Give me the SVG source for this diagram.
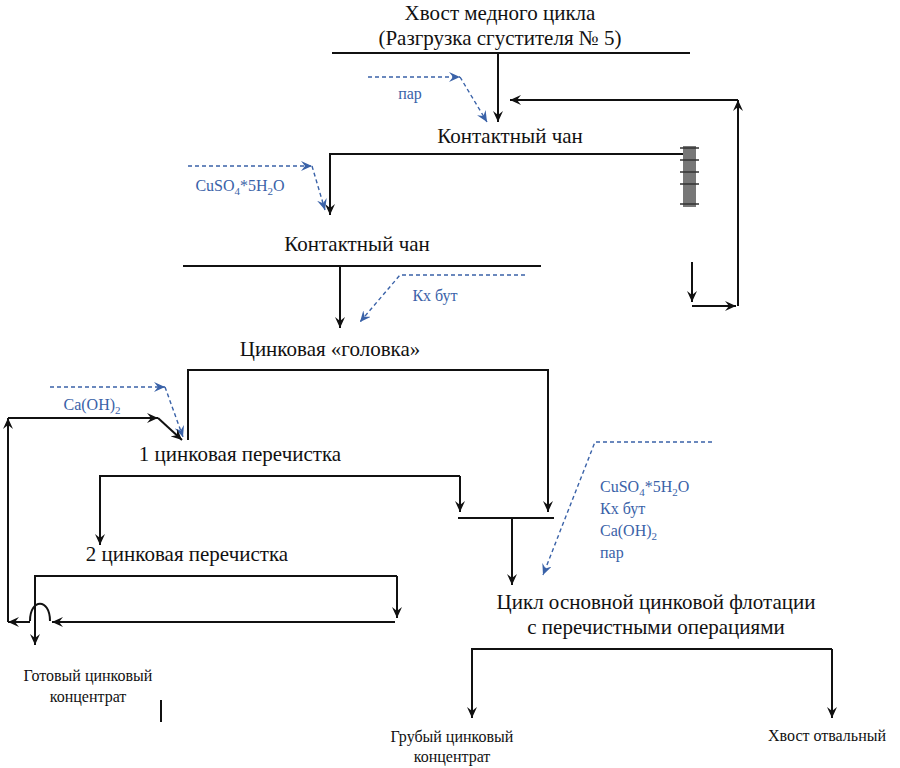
<svg xmlns="http://www.w3.org/2000/svg" width="900" height="768" viewBox="0 0 900 768">
<defs>
<marker id="a" viewBox="0 0 12 10" refX="11" refY="5" markerWidth="12" markerHeight="10" markerUnits="userSpaceOnUse" orient="auto"><path d="M0,0 L11,5 L0,10 L4,5 Z" fill="#111"/></marker>
<marker id="b" viewBox="0 0 12 10" refX="11" refY="5" markerWidth="12" markerHeight="10" markerUnits="userSpaceOnUse" orient="auto"><path d="M0,0 L11,5 L0,10 L4,5 Z" fill="#3a62a8"/></marker>
</defs>
<style>
text{font-family:"Liberation Serif","DejaVu Serif",serif;fill:#111;text-anchor:middle}
.m{font-size:21px}.s{font-size:16px}
.bl{fill:#3a62a8;font-size:16px}
.l{fill:none;stroke:#111;stroke-width:2}
.d{fill:none;stroke:#3a62a8;stroke-width:1.4;stroke-dasharray:4,3}
</style>
<rect width="900" height="768" fill="#fff"/>
<g id="n-tail"><text class="m" x="500" y="20">Хвост медного цикла</text><text class="m" x="500" y="45">(Разгрузка сгустителя № 5)</text></g>
<g id="n-chan1"><text class="m" x="510" y="143">Контактный чан</text></g>
<g id="pump"><rect x="683" y="146" width="13" height="61" fill="#777"/><path d="M680,148h19M680,160h19M680,172h19M680,184h19M680,204h19" stroke="#333" stroke-width="1.5"/></g>
<g id="n-chan2"><text class="m" x="357" y="251">Контактный чан</text></g>
<g id="n-head"><text class="m" x="330" y="356">Цинковая «головка»</text></g>
<g id="n-c1"><text class="m" x="240" y="461">1 цинковая перечистка</text></g>
<g id="n-c2"><text class="m" x="187" y="561">2 цинковая перечистка</text></g>
<g id="n-main"><text class="m" x="656" y="609">Цикл основной цинковой флотации</text><text class="m" x="656" y="634">с перечистными операциями</text></g>
<g id="n-ready"><text class="s" x="88" y="681">Готовый цинковый</text><text class="s" x="88" y="702">концентрат</text></g>
<g id="n-rough"><text class="s" x="452" y="742">Грубый цинковый</text><text class="s" x="452" y="762">концентрат</text></g>
<g id="n-waste"><text class="s" x="827" y="741">Хвост отвальный</text></g>
<g id="reagents">
<text class="bl" x="410" y="99">пар</text>
<text class="bl" x="240" y="191">CuSO<tspan font-size="11" dy="4">4</tspan><tspan dy="-4">*5H</tspan><tspan font-size="11" dy="4">2</tspan><tspan dy="-4">O</tspan></text>
<text class="bl" x="435" y="301">Кх бут</text>
<text class="bl" x="92" y="410">Ca(OH)<tspan font-size="11" dy="4">2</tspan></text>
<text class="bl" x="600" y="492" style="text-anchor:start">CuSO<tspan font-size="11" dy="4">4</tspan><tspan dy="-4">*5H</tspan><tspan font-size="11" dy="4">2</tspan><tspan dy="-4">O</tspan></text>
<text class="bl" x="600" y="514" style="text-anchor:start">Кх бут</text>
<text class="bl" x="600" y="536" style="text-anchor:start">Ca(OH)<tspan font-size="11" dy="4">2</tspan></text>
<text class="bl" x="600" y="558" style="text-anchor:start">пар</text>
</g>
<g id="connectors">
<path class="l" d="M332,53H690"/>
<path class="l" d="M498,53V122" marker-end="url(#a)"/>
<path class="d" d="M368,77H460" marker-end="url(#b)"/>
<path class="d" d="M460,77L487,122" marker-end="url(#b)"/>
<path class="l" d="M738,306V100" marker-end="url(#a)"/>
<path class="l" d="M738,100H510" marker-end="url(#a)"/>
<path class="l" d="M692,262V302" marker-end="url(#a)"/>
<path class="l" d="M692,306H736" marker-end="url(#a)"/>
<path class="l" d="M683,154H330V215" marker-end="url(#a)"/>
<path class="d" d="M188,166H312" marker-end="url(#b)"/>
<path class="d" d="M312,166L325,210" marker-end="url(#b)"/>
<path class="l" d="M183,266H541"/>
<path class="l" d="M340,266V328" marker-end="url(#a)"/>
<path class="d" d="M525,275H400L360,322" marker-end="url(#b)"/>
<path class="l" d="M188,440V370H548V512" marker-end="url(#a)"/>
<path class="d" d="M50,387H165" marker-end="url(#b)"/>
<path class="d" d="M165,387L183,437" marker-end="url(#b)"/>
<path class="l" d="M8,622V418" marker-end="url(#a)"/>
<path class="l" d="M8,418H158" marker-end="url(#a)"/>
<path class="l" d="M158,418L182,440" marker-end="url(#a)"/>
<path class="l" d="M460,476V512" marker-end="url(#a)"/>
<path class="l" d="M460,476H100V545" marker-end="url(#a)"/>
<path class="l" d="M458,518H554"/>
<path class="l" d="M512,518V585" marker-end="url(#a)"/>
<path class="d" d="M712,442H595L543,575" marker-end="url(#b)"/>
<path class="l" d="M397,576H35V645" marker-end="url(#a)"/>
<path class="l" d="M397,576V618" marker-end="url(#a)"/>
<path class="l" d="M395,622H52" marker-end="url(#a)"/>
<path class="l" d="M30,622H8" marker-end="url(#a)"/>
<path class="l" d="M30,621C30,598 50,598 50,621"/>
<path class="l" d="M161,700V722"/>
<path class="l" d="M832,649H472V718" marker-end="url(#a)"/>
<path class="l" d="M832,649V718" marker-end="url(#a)"/>
</g>
</svg>
